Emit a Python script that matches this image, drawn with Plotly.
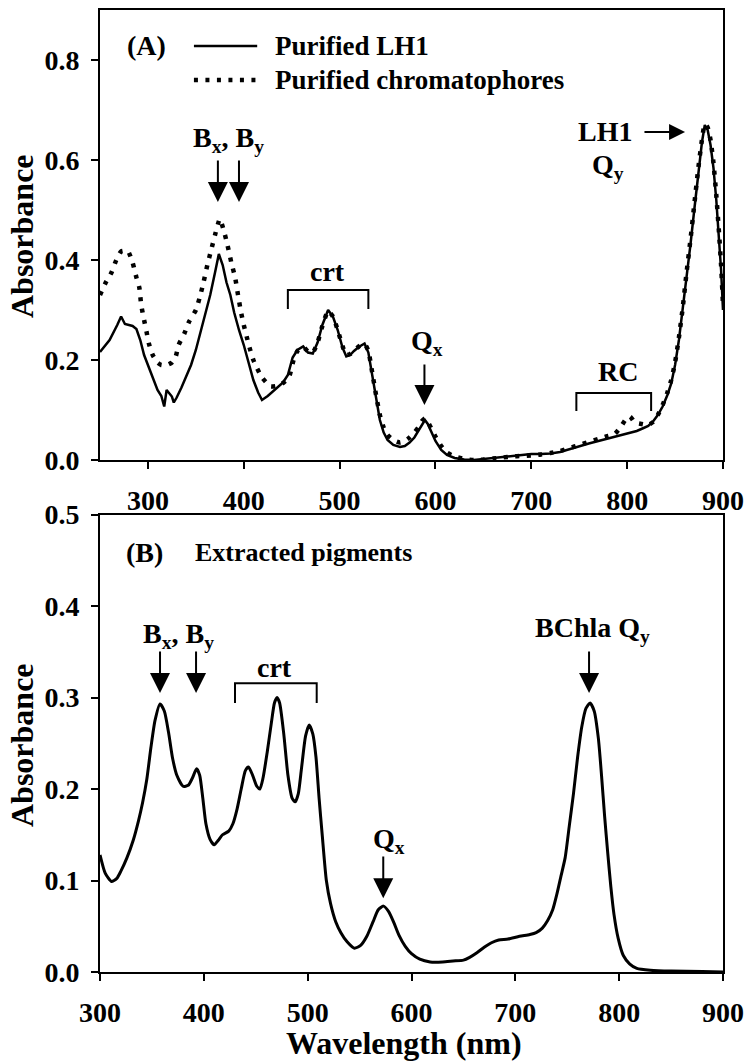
import plotly.graph_objects as go

# ---------------- Panel A data ----------------
lh1_x = [250, 260, 268, 272, 276, 280, 284, 288, 292, 296, 300, 305, 310, 314, 317, 319.5, 322, 325, 327, 330,
         335, 340, 345, 350, 355, 360, 365, 370, 374, 378, 382, 386, 390, 395, 400, 405, 410, 415, 419, 425,
         430, 435, 441, 446, 451, 456, 462, 467, 472, 477, 482, 488, 493, 498, 503, 507, 511, 515, 520, 526,
         530, 534, 538, 542, 546, 550, 556, 563, 568, 573, 578, 582, 586, 589, 592, 596, 600, 606, 612, 620,
         630, 640, 650, 660, 670, 680, 690, 700, 710, 720, 730, 740, 750, 760, 770, 780, 790, 800, 810, 816,
         822, 827, 832, 837, 842, 846, 850, 854, 858, 862, 866, 870, 874, 878, 881, 884, 887, 890, 893, 896,
         898, 900]
lh1_y = [0.216, 0.24, 0.27, 0.287, 0.272, 0.27, 0.268, 0.262, 0.24, 0.21, 0.19, 0.163, 0.14, 0.128, 0.107, 0.14, 0.135, 0.127, 0.115, 0.125,
         0.145, 0.167, 0.19, 0.22, 0.258, 0.29, 0.33, 0.375, 0.412, 0.39, 0.355, 0.33, 0.295, 0.26, 0.23, 0.195, 0.16, 0.135, 0.12, 0.128,
         0.137, 0.145, 0.155, 0.17, 0.205, 0.22, 0.227, 0.215, 0.213, 0.235, 0.27, 0.3, 0.287, 0.26, 0.225, 0.207, 0.21, 0.218, 0.226, 0.233,
         0.215, 0.17, 0.12, 0.08, 0.055, 0.04, 0.03, 0.026, 0.028, 0.035, 0.045, 0.058, 0.073, 0.08, 0.072, 0.055, 0.038, 0.02, 0.01, 0.004,
         0.001, 0.0, 0.002, 0.004, 0.007, 0.009, 0.011, 0.012, 0.012, 0.013, 0.016, 0.022, 0.028, 0.033, 0.038, 0.043, 0.048, 0.053, 0.058, 0.063,
         0.068, 0.077, 0.09, 0.107, 0.13, 0.153, 0.19, 0.24, 0.3, 0.37, 0.43, 0.5, 0.57, 0.635, 0.67, 0.66, 0.63, 0.585, 0.52, 0.44,
         0.38, 0.3]

chrom_x = [250, 256, 262, 267, 272, 279, 284, 288, 291, 293, 296, 298.5, 301, 305, 310, 314, 320, 325, 329, 332,
           338, 343, 350, 354, 358, 362, 366, 370, 375, 379, 383, 387, 391, 394, 397, 400, 403, 406, 410, 414,
           419, 428, 438, 447, 452, 456, 462, 467, 472, 477, 482, 488, 493, 498, 503, 507, 511, 515, 520, 526,
           530, 534, 538, 542, 546, 550, 556, 563, 568, 573, 578, 582, 586, 589, 592, 596, 600, 606, 612, 620,
           630, 640, 650, 660, 670, 680, 690, 700, 710, 720, 730, 740, 750, 760, 770, 780, 787, 793, 798, 803,
           808, 815, 822, 827, 832, 837, 842, 846, 850, 854, 858, 862, 866, 870, 874, 878, 881, 884, 887, 890,
           893, 896, 898, 900]
chrom_y = [0.33, 0.355, 0.375, 0.4, 0.417, 0.418, 0.395, 0.365, 0.345, 0.31, 0.28, 0.257, 0.233, 0.21, 0.195, 0.19, 0.19, 0.195, 0.207, 0.23,
           0.253, 0.277, 0.3, 0.325, 0.355, 0.39, 0.42, 0.45, 0.482, 0.46, 0.43, 0.395, 0.365, 0.33, 0.297, 0.27, 0.247, 0.225, 0.2, 0.183,
           0.165, 0.147, 0.15, 0.165, 0.2, 0.218, 0.226, 0.217, 0.215, 0.235, 0.268, 0.298, 0.287, 0.26, 0.228, 0.21, 0.212, 0.218, 0.227, 0.232,
           0.218, 0.175, 0.13, 0.09, 0.065, 0.05, 0.04, 0.035, 0.038, 0.045, 0.055, 0.065, 0.078, 0.083, 0.076, 0.062, 0.047, 0.028, 0.015, 0.007,
           0.002, 0.0, 0.001, 0.003, 0.005, 0.007, 0.008, 0.009, 0.011, 0.014, 0.018, 0.024, 0.03, 0.036, 0.042, 0.048, 0.052, 0.065, 0.08, 0.087,
           0.075, 0.072, 0.07, 0.076, 0.09, 0.11, 0.135, 0.16, 0.195, 0.245, 0.305, 0.375, 0.44, 0.51, 0.58, 0.64, 0.672, 0.665, 0.64, 0.595,
           0.53, 0.45, 0.39, 0.31]

# ---------------- Panel B data ----------------
pig_x = [300, 305, 311, 316, 320, 326, 332, 337, 341, 345, 349, 353, 357.8, 362, 366, 370, 374, 380, 385, 389,
         393, 396, 399, 402, 406, 410, 414, 418, 424, 428, 432, 436, 440, 443, 447, 451, 454, 457, 461, 465,
         468, 470.5, 473, 477, 481, 485, 488, 491, 494, 498, 501.5, 505, 508, 511, 514, 518, 522, 527, 532, 538,
         545, 551, 557, 563, 568, 573, 578, 583, 588, 594, 600, 608, 618, 630, 640, 650, 656, 663, 670, 677,
         684, 693, 704, 714, 720, 726, 731, 736, 740, 744, 748, 752, 756, 760, 764, 768, 772, 776, 780, 783,
         786, 789, 792, 795, 799, 804, 810, 817, 830, 850, 880, 900]
pig_y = [0.128, 0.108, 0.099, 0.102, 0.11, 0.125, 0.144, 0.165, 0.185, 0.21, 0.245, 0.275, 0.293, 0.285, 0.262, 0.233, 0.215, 0.203, 0.204, 0.212,
         0.222, 0.215, 0.19, 0.162, 0.145, 0.139, 0.144, 0.15, 0.154, 0.162, 0.178, 0.2, 0.22, 0.224, 0.215, 0.203, 0.2, 0.212, 0.24, 0.272,
         0.294, 0.3, 0.294, 0.26, 0.215, 0.19, 0.186, 0.195, 0.222, 0.258, 0.27, 0.26, 0.235, 0.19, 0.15, 0.1, 0.075, 0.055, 0.043, 0.033,
         0.026, 0.029, 0.039, 0.055, 0.068, 0.072, 0.066, 0.054, 0.04, 0.028, 0.02, 0.014, 0.011, 0.011, 0.012, 0.013, 0.016, 0.021, 0.027, 0.032,
         0.035, 0.036, 0.039, 0.041, 0.043, 0.048, 0.056, 0.068, 0.085, 0.105, 0.125, 0.16, 0.195, 0.235, 0.268, 0.288, 0.294, 0.285, 0.255, 0.215,
         0.17, 0.13, 0.093, 0.063, 0.037, 0.018, 0.009, 0.004, 0.002, 0.001, 0.0005, 0.0]

series_names = ["Purified LH1", "Purified chromatophores", "Extracted pigments"]
a_xticks = [300, 400, 500, 600, 700, 800, 900]
a_yticks = [0.0, 0.2, 0.4, 0.6, 0.8]
b_xticks = [300, 400, 500, 600, 700, 800, 900]
b_yticks = [0.0, 0.1, 0.2, 0.3, 0.4, 0.5]

FONT = "Liberation Serif, Times New Roman, serif"
DOT = "4px,7.5px"

fig = go.Figure()
fig.add_trace(go.Scatter(x=lh1_x, y=lh1_y, mode="lines", name=series_names[0],
                         line=dict(color="black", width=2.5), xaxis="x", yaxis="y", showlegend=False))
fig.add_trace(go.Scatter(x=chrom_x, y=chrom_y, mode="lines", name=series_names[1],
                         line=dict(color="black", width=4.5, dash=DOT, shape="spline", smoothing=0.5),
                         xaxis="x", yaxis="y", showlegend=False))
fig.add_trace(go.Scatter(x=pig_x, y=pig_y, mode="lines", name=series_names[2],
                         line=dict(color="black", width=3, shape="spline", smoothing=0.6),
                         xaxis="x2", yaxis="y2", showlegend=False))

axis_common = dict(showline=True, linecolor="black", linewidth=2, mirror=True, ticks="outside",
                   ticklen=7, tickwidth=2, tickcolor="black", showgrid=False, zeroline=False,
                   tickfont=dict(family=FONT, size=28, color="black", weight="bold"))

xd = [100 / 747, 723 / 747]
fig.update_layout(
    width=747, height=1061, margin=dict(l=0, r=0, t=0, b=0),
    template="none", paper_bgcolor="white", plot_bgcolor="white",
    font=dict(family=FONT, color="black", weight="bold"),
    xaxis=dict(domain=xd, range=[250, 900], tickvals=a_xticks, anchor="y", ticklabelstandoff=7, **axis_common),
    yaxis=dict(domain=[(1061 - 460) / 1061, (1061 - 10) / 1061], range=[0, 0.9], tickvals=a_yticks,
               tickformat=".1f", anchor="x", ticklabelstandoff=6, **axis_common),
    xaxis2=dict(domain=xd, range=[300, 900], tickvals=b_xticks, anchor="y2", ticklabelstandoff=7, **axis_common),
    yaxis2=dict(domain=[(1061 - 972) / 1061, (1061 - 514.5) / 1061], range=[0, 0.5], tickvals=b_yticks,
                tickformat=".1f", anchor="x2", ticklabelstandoff=6, **axis_common),
)

ann = []
def txt(text, x, y, xref="x", yref="y", size=28, xanchor="center", angle=0):
    ann.append(dict(text=text, x=x, y=y, xref=xref, yref=yref, showarrow=False, xanchor=xanchor,
                    yanchor="middle", textangle=angle,
                    font=dict(family=FONT, size=size, color="black", weight="bold")))

def arrow(x, y, ax, ay, xref="x", yref="y", size=2.0):
    ann.append(dict(text="", x=x, y=y, ax=ax, ay=ay, xref=xref, yref=yref, axref=xref, ayref=yref,
                    showarrow=True, arrowhead=2, arrowsize=size, arrowwidth=2, arrowcolor="black",
                    font=dict(family=FONT, size=12, color="black")))

# axis titles
txt("Absorbance", 22 / 747, (1061 - 236) / 1061, "paper", "paper", size=32, angle=-90)
txt("Absorbance", 22 / 747, (1061 - 745) / 1061, "paper", "paper", size=32, angle=-90)
txt("Wavelength (nm)", 404 / 747, (1061 - 1043) / 1061, "paper", "paper", size=32)

# Panel A labels
txt("(A)", 299, 0.828, size=28)
txt(series_names[0], 430.4, 0.828, size=27, xanchor="left")
txt(series_names[1], 430.4, 0.760, size=27, xanchor="left")
txt("B<sub>x</sub>, B<sub>y</sub>", 384.5, 0.64)
arrow(373, 0.516, 373, 0.602)
arrow(395, 0.516, 395, 0.602)
txt("crt", 487.8, 0.376)
txt("Q<sub>x</sub>", 591, 0.234)
arrow(588.5, 0.11, 588.5, 0.194)
txt("RC", 790.5, 0.176)
txt("LH1", 777, 0.656)
arrow(860.4, 0.656, 816.5, 0.656, size=1.6)
txt("Q<sub>y</sub>", 780, 0.586)

# Panel B labels
txt("(B)", 343.3, 0.458, "x2", "y2", size=28)
txt(series_names[2], 389.6, 0.458, "x2", "y2", size=26, xanchor="left")
txt("B<sub>x</sub>, B<sub>y</sub>", 376, 0.368, "x2", "y2")
arrow(357.8, 0.305, 357.8, 0.352, "x2", "y2")
arrow(392.5, 0.305, 392.5, 0.352, "x2", "y2")
txt("crt", 468.5, 0.333, "x2", "y2")
txt("Q<sub>x</sub>", 578, 0.144, "x2", "y2")
arrow(572.8, 0.0805, 572.8, 0.128, "x2", "y2")
txt("BChla Q<sub>y</sub>", 773.9, 0.374, "x2", "y2")
arrow(771, 0.305, 771, 0.352, "x2", "y2")

fig.update_layout(annotations=ann)

# brackets and legend samples
def bracket(x0, x1, ylo, yhi, xref="x", yref="y"):
    fig.add_shape(type="path", path=f"M {x0},{ylo} L {x0},{yhi} L {x1},{yhi} L {x1},{ylo}",
                  xref=xref, yref=yref, line=dict(color="black", width=2))

bracket(446, 530, 0.302, 0.34)
bracket(747, 825, 0.098, 0.134)
bracket(430, 508.7, 0.294, 0.3155, "x2", "y2")

fig.add_shape(type="line", x0=348, x1=414, y0=0.828, y1=0.828, xref="x", yref="y",
              line=dict(color="black", width=2.5))
fig.add_shape(type="line", x0=348, x1=414, y0=0.760, y1=0.760, xref="x", yref="y",
              line=dict(color="black", width=4.5, dash=DOT))

fig.write_html("out.html")
